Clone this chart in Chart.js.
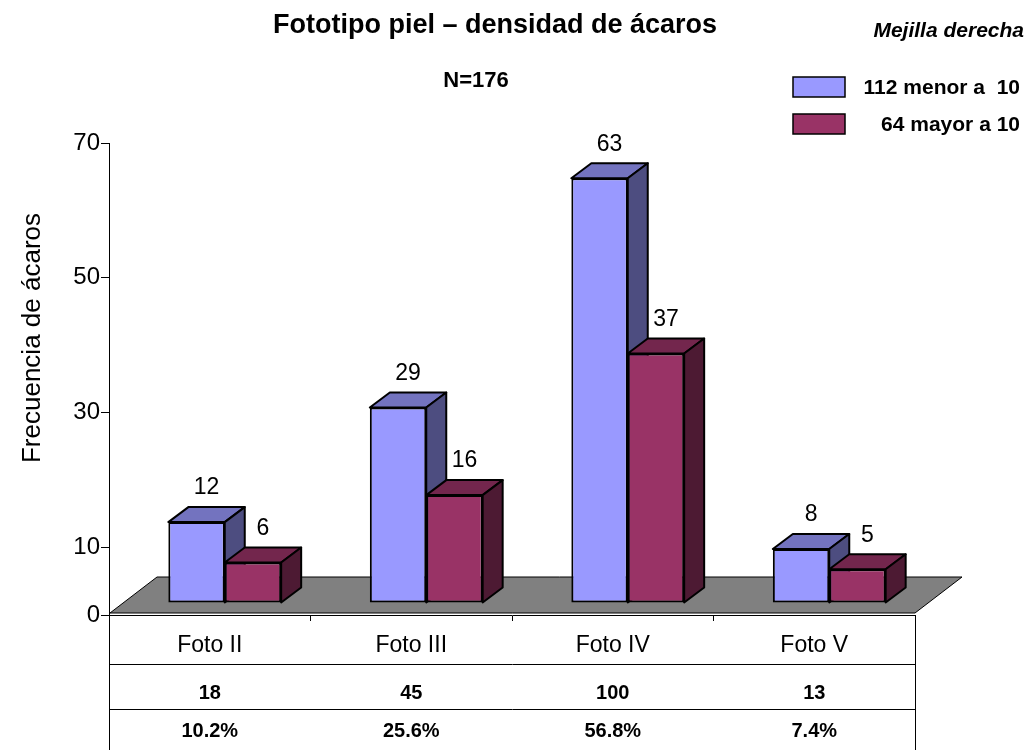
<!DOCTYPE html>
<html>
<head>
<meta charset="utf-8">
<script src="https://cdn.jsdelivr.net/npm/chart.js@4.4.0/dist/chart.umd.min.js"></script>
<style>
  html, body { margin: 0; padding: 0; background: #fff; }
</style>
</head>
<body>
<canvas id="myChart" width="1031" height="750"></canvas>
<script>
// datos
const categorias = ['Foto II', 'Foto III', 'Foto IV', 'Foto V'];
const menorA10 = [12, 29, 63, 8];
const mayorA10 = [6, 16, 37, 5];
const totales = ['18', '45', '100', '13'];
const porcentajes = ['10.2%', '25.6%', '56.8%', '7.4%'];
const marcasY = [0, 10, 30, 50, 70];
const nombresSeries = ['112 menor a  10', '64 mayor a 10'];

const FUENTE = "'Liberation Sans', Arial, sans-serif";
Chart.defaults.font.family = FUENTE;
Chart.defaults.color = '#000';

// colores tipo Excel: frente, tapa, lado
const colores = [
  { frente: '#9999FF', tapa: '#7373BF', lado: '#4D4D80' },
  { frente: '#993366', tapa: '#73264D', lado: '#4D1A33' }
];

// profundidad 3D
const BAR_DX = 20, BAR_DY = 15;     // cara superior / lateral de barras
const DESPL_X = 15, DESPL_Y = 12;   // barras metidas dentro del piso
const PISO_DX = 47, PISO_DY = 36;

function poligono(ctx, pts, relleno) {
  ctx.beginPath();
  ctx.moveTo(pts[0][0], pts[0][1]);
  for (let i = 1; i < pts.length; i++) ctx.lineTo(pts[i][0], pts[i][1]);
  ctx.closePath();
  ctx.fillStyle = relleno;
  ctx.fill();
  ctx.stroke();
}

const barras3D = {
  id: 'barras3D',
  beforeDatasetsDraw(chart) {
    // piso gris
    const ctx = chart.ctx;
    const a = chart.chartArea;
    const y0 = chart.scales.y.getPixelForValue(0) - 2;
    ctx.save();
    ctx.strokeStyle = '#000';
    ctx.lineWidth = 1;
    ctx.lineJoin = 'round';
    poligono(ctx, [
      [a.left + 1, y0], [a.left + 1 + PISO_DX, y0 - PISO_DY],
      [a.right + PISO_DX, y0 - PISO_DY], [a.right, y0]
    ], '#808080');
    ctx.restore();
  },
  beforeDatasetDraw() {
    return false; // se dibujan abajo, en orden
  },
  afterDatasetsDraw(chart) {
    const ctx = chart.ctx;
    ctx.save();
    ctx.translate(DESPL_X, -DESPL_Y);
    ctx.strokeStyle = '#000';
    ctx.lineWidth = 2;
    ctx.lineJoin = 'round';
    chart.data.datasets.forEach((ds, di) => {
      const meta = chart.getDatasetMeta(di);
      const c = colores[di];
      meta.data.forEach((bar) => {
        const p = bar.getProps(['x', 'y', 'base', 'width'], true);
        const l = p.x - p.width / 2, r = p.x + p.width / 2;
        bar.draw(ctx);
        poligono(ctx, [[l, p.y], [l + BAR_DX, p.y - BAR_DY], [r + BAR_DX, p.y - BAR_DY], [r, p.y]], c.tapa);
        poligono(ctx, [[r, p.y], [r + BAR_DX, p.y - BAR_DY], [r + BAR_DX, p.base - BAR_DY], [r, p.base]], c.lado);
      });
    });
    // etiquetas de valor
    ctx.fillStyle = '#000';
    ctx.font = '23px ' + FUENTE;
    ctx.textAlign = 'center';
    ctx.textBaseline = 'middle';
    chart.data.datasets.forEach((ds, di) => {
      chart.getDatasetMeta(di).data.forEach((bar, i) => {
        const p = bar.getProps(['x', 'y'], true);
        ctx.fillText(String(ds.data[i]), p.x + BAR_DX / 2, p.y - 34);
      });
    });
    ctx.restore();
  },
  afterDraw(chart) {
    const ctx = chart.ctx;
    const a = chart.chartArea;
    const xs = chart.scales.x;
    const H = chart.height;
    ctx.save();
    ctx.strokeStyle = '#000';
    ctx.lineWidth = 1;
    // tabla bajo el eje
    ctx.beginPath();
    ctx.moveTo(a.left + 0.5, a.bottom); ctx.lineTo(a.left + 0.5, H);
    ctx.moveTo(a.right + 0.5, a.bottom); ctx.lineTo(a.right + 0.5, H);
    ctx.moveTo(a.left, 664.5); ctx.lineTo(a.right + 1, 664.5);
    ctx.moveTo(a.left, 709.5); ctx.lineTo(a.right + 1, 709.5);
    ctx.stroke();

    ctx.fillStyle = '#000';
    ctx.textAlign = 'center';
    ctx.textBaseline = 'middle';
    ctx.font = 'bold 20px ' + FUENTE;
    categorias.forEach((cat, i) => {
      const x = xs.getPixelForValue(i);
      ctx.fillText(totales[i], x, 693);
      ctx.fillText(porcentajes[i], x, 731);
    });

    // titulos
    ctx.font = 'bold 27px ' + FUENTE;
    ctx.fillText('Fototipo piel – densidad de ácaros', 495, 26);
    ctx.font = 'bold 22px ' + FUENTE;
    ctx.fillText('N=176', 476, 81);
    ctx.textAlign = 'right';
    ctx.font = 'italic bold 21px ' + FUENTE;
    ctx.fillText('Mejilla derecha', 1024, 31);

    // leyenda
    ctx.font = 'bold 21px ' + FUENTE;
    const filas = [87, 124];
    chart.data.datasets.forEach((ds, di) => {
      ctx.fillStyle = colores[di].frente;
      ctx.lineWidth = 1.5;
      ctx.fillRect(793, filas[di] - 10, 52, 20);
      ctx.strokeRect(793, filas[di] - 10, 52, 20);
      ctx.fillStyle = '#000';
      ctx.fillText(ds.label, 1020, filas[di] + 1);
    });

    // titulo eje Y
    ctx.translate(33, 338);
    ctx.rotate(-Math.PI / 2);
    ctx.textAlign = 'center';
    ctx.font = '26px ' + FUENTE;
    ctx.fillText('Frecuencia de ácaros', 0, 0);
    ctx.restore();
  }
};

const ctx = document.getElementById('myChart').getContext('2d');
const chart = new Chart(ctx, {
  type: 'bar',
  data: {
    labels: categorias,
    datasets: [
      {
        label: nombresSeries[0],
        data: menorA10,
        backgroundColor: colores[0].frente,
        borderColor: '#000',
        borderWidth: 2,
        borderSkipped: false
      },
      {
        label: nombresSeries[1],
        data: mayorA10,
        backgroundColor: colores[1].frente,
        borderColor: '#000',
        borderWidth: 2,
        borderSkipped: false
      }
    ]
  },
  options: {
    responsive: false,
    animation: false,
    layout: { padding: { top: 143, right: 116, bottom: 0, left: 0 } },
    datasets: { bar: { categoryPercentage: 0.56, barPercentage: 1 } },
    plugins: {
      legend: { display: false },
      tooltip: { enabled: false },
      title: { display: false }
    },
    scales: {
      x: {
        grid: { offset: true, drawOnChartArea: false, tickLength: 6, color: '#000' },
        border: { color: '#000', width: 1 },
        ticks: { font: { size: 23 }, color: '#000', padding: 11 },
        afterFit(scale) { scale.height = 135; }
      },
      y: {
        min: 0,
        max: 70,
        grid: { drawOnChartArea: false, tickLength: 8, color: '#000' },
        border: { color: '#000', width: 1 },
        ticks: { font: { size: 24 }, color: '#000', padding: 1 },
        afterBuildTicks(scale) { scale.ticks = marcasY.map(v => ({ value: v })); },
        afterFit(scale) { scale.width = 109; }
      }
    }
  },
  plugins: [barras3D]
});
</script>
</body>
</html>
